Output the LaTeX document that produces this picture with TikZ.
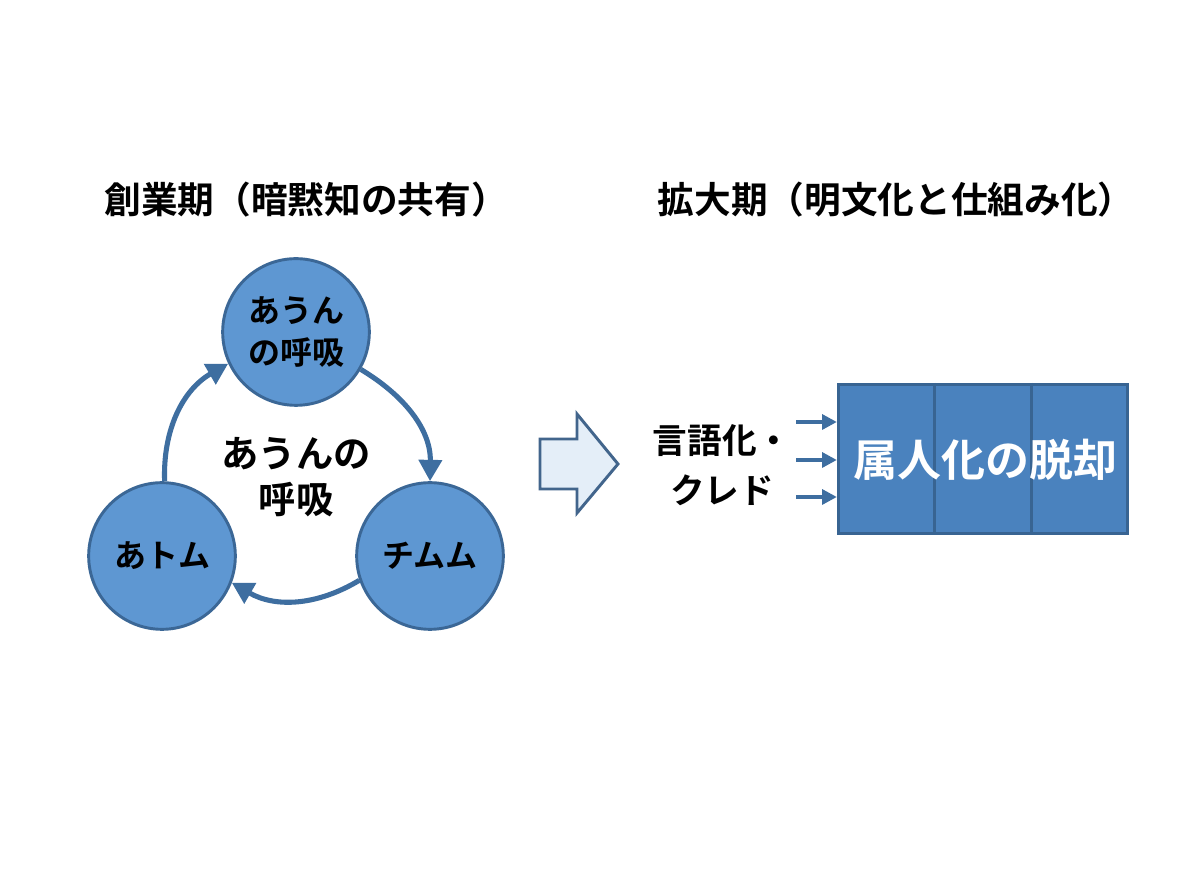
\documentclass[tikz,border=0pt]{standalone}
\usepackage{fontspec}
\setmainfont{Noto Sans CJK JP}[BoldFont={Noto Sans CJK JP Bold}]
\usetikzlibrary{arrows.meta,calc}
\definecolor{circfill}{RGB}{94,151,210}
\definecolor{circline}{RGB}{59,103,150}
\definecolor{arrowcol}{RGB}{62,110,160}
\definecolor{boxfill}{RGB}{74,130,190}
\definecolor{boxline}{RGB}{56,100,146}
\definecolor{bafill}{RGB}{228,238,248}
\definecolor{baline}{RGB}{66,101,140}
\begin{document}
\begin{tikzpicture}[x=0.75pt,y=0.75pt,
  bubble/.style={circle,draw=circline,fill=circfill,line width=2.2pt,minimum size=110pt,inner sep=0pt,align=center,font=\bfseries\fontsize{24}{31}\selectfont},
  cyc/.style={draw=arrowcol,line width=3.8pt,-{Triangle[length=16pt,width=17pt]}},
  feed/.style={draw=arrowcol,line width=2.8pt,-{Triangle[length=11pt,width=11pt]}},
  title/.style={font=\bfseries\fontsize{27.5}{32}\selectfont,anchor=center},
  divider/.style={draw=boxline,line width=2.2pt}]
\useasboundingbox (0,0) rectangle (1200,896);
\fill[white] (0,0) rectangle (1200,896);

% titles
\node[title] (t1) at (306,696) {創業期（暗黙知の共有）};
\node[title] (t2) at (896,696) {拡大期（明文化と仕組み化）};

% cycle
\node[bubble] (top) at (296,564) {あうん\\の呼吸};
\node[bubble] (lft) at (162,340) {あトム};
\node[bubble] (rgt) at (430,340) {チムム};
\node[align=center,font=\bfseries\fontsize{28}{34}\selectfont] (mid) at (296,419) {あうんの\\呼吸};

\draw[cyc] (lft.88) to[out=92,in=210] (top.205);
\draw[cyc] (top.-30) to[out=-31,in=89] (rgt.90);
\draw[cyc] (rgt.199) to[out=211,in=-30] (lft.-21);

% block arrow
\draw[fill=bafill,draw=baline,line width=2.2pt,line join=miter]
  (540,457) -- (577,457) -- (577,482) -- (618,432) -- (577,383) -- (577,407) -- (540,407) -- cycle;

% label
\node[align=center,font=\bfseries\fontsize{26}{37.5}\selectfont] (lab) at (722,431) {言語化・\\クレド};

% box
\node[draw=boxline,fill=boxfill,line width=2.2pt,minimum width=217pt,minimum height=112pt,inner sep=0pt] (box) at (983,437) {};
\draw[divider] ($(box.north west)!1/3!(box.north east)$) -- ($(box.south west)!1/3!(box.south east)$);
\draw[divider] ($(box.north west)!2/3!(box.north east)$) -- ($(box.south west)!2/3!(box.south east)$);
\node[text=white,font=\bfseries\fontsize{33}{38}\selectfont] (boxtxt) at (985,436) {属人化の脱却};

% feed arrows
\coordinate (a1) at (796,474);
\coordinate (a2) at (796,436);
\coordinate (a3) at (796,399);
\draw[feed] (a1) -- (a1 -| box.west);
\draw[feed] (a2) -- (a2 -| box.west);
\draw[feed] (a3) -- (a3 -| box.west);
\end{tikzpicture}
\end{document}
